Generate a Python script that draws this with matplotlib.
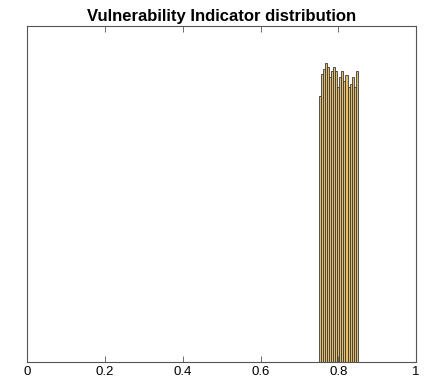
import numpy as np
import matplotlib.pyplot as plt

plt.rcParams['font.family'] = ['Liberation Sans', 'DejaVu Sans']

# histogram of the indicator: bin edges and counts
bin_edges = np.linspace(0.75, 0.85, 20)
counts = [265, 287, 292, 298, 294, 284, 290, 294, 290, 274,
          284, 290, 280, 286, 274, 277, 284, 274, 290]

fig = plt.figure(figsize=(4.25, 3.84), dpi=100)
ax = fig.add_axes([0.064, 0.057, 0.915, 0.875])

ax.bar(bin_edges[:-1], counts, width=np.diff(bin_edges), align='edge',
       color='#e3bd6a', edgecolor='#3a3a3a', linewidth=0.6)

ax.set_xlim(0, 1)
ax.set_ylim(0, 335)
ax.set_xticks([0, 0.2, 0.4, 0.6, 0.8, 1])
ax.set_xticklabels(['0', '0.2', '0.4', '0.6', '0.8', '1'])
ax.set_yticks([])
ax.tick_params(axis='x', direction='in', top=True, length=4, width=0.6,
               color='#555555', labelsize=9.5, pad=3)
for s in ax.spines.values():
    s.set_color('#555555')
    s.set_linewidth(0.8)

ax.set_title('Vulnerability Indicator distribution', fontsize=12,
             fontweight='bold', pad=4)

fig.savefig('out.png', dpi=100)
